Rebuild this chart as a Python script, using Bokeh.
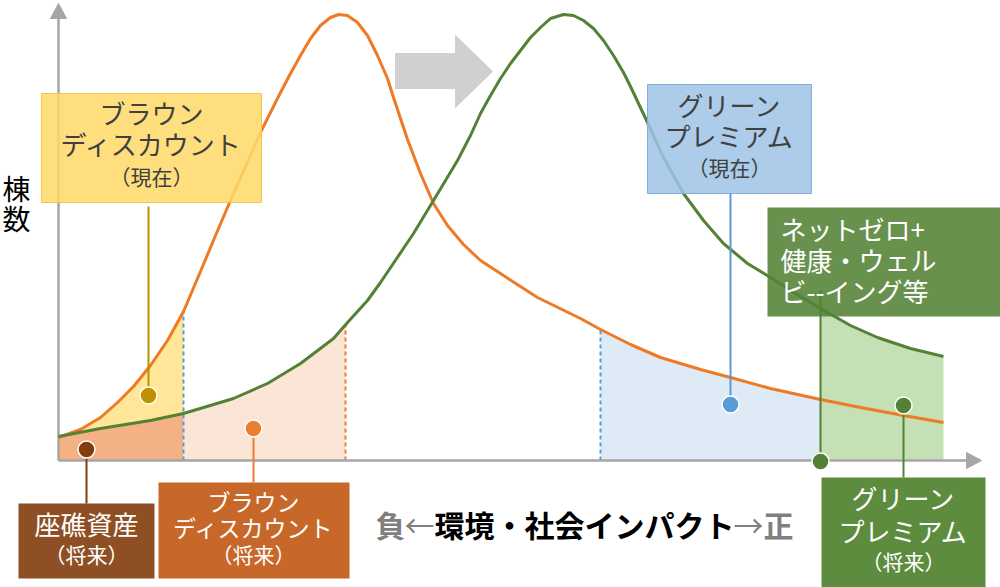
import numpy as np
from bokeh.plotting import figure
from bokeh.models import Range1d
from bokeh.core.properties import value
from bokeh.embed import file_html
from bokeh.resources import INLINE

# ---------------- data (x: environmental/social impact, y: number of buildings) ----------------
current_x = [0, 22, 42, 59, 75, 92, 109, 125, 142, 157, 172, 187, 203, 222, 232, 242, 252, 262,
             272, 280, 289, 299, 309, 319, 329, 335, 342, 349, 362, 375, 389, 405, 422, 445, 479,
             522, 542, 572, 602, 642, 672, 712, 762, 802, 845, 885]
current_y = [23, 31, 43, 58, 74, 95, 120, 149, 189, 225, 260, 294, 330, 368, 387, 405, 422, 435,
             443, 446, 445, 438, 425, 405, 382, 363, 342, 321, 287, 257, 235, 216, 200, 185, 163,
             142, 131, 116, 103, 91, 83, 72, 61, 53, 45, 38]
future_x = [0, 42, 92, 125, 175, 209, 242, 275, 289, 309, 322, 355, 375, 399, 412, 422, 432, 442,
            452, 462, 472, 482, 492, 505, 515, 525, 535, 545, 555, 565, 572, 589, 605, 625, 645,
            665, 689, 712, 737, 762, 792, 819, 852, 885]
future_y = [24, 32, 40, 47, 62, 77, 97, 122, 138, 160, 178, 227, 260, 300, 325, 347, 365, 382,
            397, 410, 423, 433, 442, 446, 445, 440, 432, 420, 405, 388, 374, 338, 303, 267, 240,
            217, 197, 183, 167, 152, 135, 123, 112, 104]

brown_now_end = 125       # brown discount (current) / stranded asset boundary
brown_future_end = 287    # brown discount (future) boundary
green_now_start = 542     # green premium (current) start
green_future_start = 762  # green premium (future) start
curve_end = 885

y_label = ["棟", "数"]
x_label = ["負", "←", "環境・社会インパクト", "→", "正"]
brown_now_label = ["ブラウン", "ディスカウント", "（現在）"]
green_now_label = ["グリーン", "プレミアム", "（現在）"]
netzero_label = ["ネットゼロ+", "健康・ウェル", "ビ--イング等"]
stranded_label = ["座礁資産", "（将来）"]
brown_future_label = ["ブラウン", "ディスカウント", "（将来）"]
green_future_label = ["グリーン", "プレミアム", "（将来）"]

# ---------------- layout helpers (reference pixel -> data) ----------------
OX, OY = 58, 460
def X(px):
    return px - OX
def Y(py):
    return OY - py

FONT = value("Noto Sans CJK JP")

p = figure(width=1000, height=587, x_range=Range1d(-58, 942), y_range=Range1d(-127, 460),
           x_axis_type=None, y_axis_type=None, toolbar_location=None, output_backend="svg",
           min_border=0, outline_line_color=None, background_fill_color="white",
           border_fill_color="white")

cx = np.array(current_x, float); cy = np.array(current_y, float)
fx = np.array(future_x, float); fy = np.array(future_y, float)

def seg(xs, ys, a, b):
    inside = (xs > a) & (xs < b)
    xx = np.concatenate([[a], xs[inside], [b]])
    return xx, np.interp(xx, xs, ys)

# fills
xx, yy = seg(fx, fy, 0, brown_now_end)
p.varea(x=xx, y1=0, y2=yy, fill_color="#f4b183")
xu = np.unique(np.concatenate([seg(fx, fy, 0, brown_now_end)[0], seg(cx, cy, 0, brown_now_end)[0]]))
p.varea(x=xu, y1=np.interp(xu, fx, fy), y2=np.interp(xu, cx, cy), fill_color="#ffe699")
xx, yy = seg(fx, fy, brown_now_end, brown_future_end)
p.varea(x=xx, y1=0, y2=yy, fill_color="#fbe5d6")
xx, yy = seg(cx, cy, green_now_start, green_future_start)
p.varea(x=xx, y1=0, y2=yy, fill_color="#deebf7")
xx, yy = seg(fx, fy, green_future_start, curve_end)
p.varea(x=xx, y1=0, y2=yy, fill_color="#c5e0b4")

# dashed boundaries
p.segment(x0=[brown_now_end], y0=[0], x1=[brown_now_end], y1=[np.interp(brown_now_end, cx, cy)],
          line_color="#5b9bd5", line_width=2, line_dash="4 3")
p.segment(x0=[brown_future_end], y0=[0], x1=[brown_future_end], y1=[np.interp(brown_future_end, fx, fy)],
          line_color="#ed7d31", line_width=2, line_dash="4 3")
p.segment(x0=[green_now_start], y0=[0], x1=[green_now_start], y1=[np.interp(green_now_start, cx, cy)],
          line_color="#5b9bd5", line_width=2, line_dash="4 3")

# axes
AX = "#a6a6a6"
p.line([0, 0], [0, Y(14)], line_color=AX, line_width=2.5)
p.line([0, X(966)], [0, 0], line_color=AX, line_width=2.5)
hl, hw = 15, 8
p.patch([-hw, 0, hw], [Y(3) - hl, Y(3), Y(3) - hl], color=AX)
p.patch([X(981) - hl, X(981), X(981) - hl], [hw, 0, -hw], color=AX)

# curves
p.line(cx, cy, line_color="#ee7a26", line_width=3, line_join="round")
p.line(fx, fy, line_color="#538135", line_width=3, line_join="round")

# shift arrow
p.patch([X(395), X(455), X(455), X(492), X(455), X(455), X(395)],
        [Y(53), Y(53), Y(35), Y(71), Y(107), Y(88), Y(88)], color="#d0d0d0")

# boxes
def box(l, r, t, b, fill, alpha=1.0, line=None):
    p.quad(left=[X(l)], right=[X(r)], top=[Y(t)], bottom=[Y(b)], fill_color=fill,
           fill_alpha=alpha, line_color=line, line_width=1)

box(41, 261, 93, 202, "#ffd966", 0.85, "#f0c850")
box(647, 811, 84, 193, "#9dc3e6", 0.85, "#86aedb")
box(767, 1000, 207, 316, "#548235", 0.88)
box(18, 154, 503, 578, "#8f4f24")
box(158, 349, 482, 578, "#c8672a")
box(821, 985, 477, 590, "#5e8c3f")

# leaders and dots
def leader(px, py0, py1, color, dot_py, outline="white"):
    p.segment(x0=[X(px)], y0=[Y(py0)], x1=[X(px)], y1=[Y(py1)], line_color=color, line_width=2)
    p.scatter([X(px)], [Y(dot_py)], size=17, fill_color=color, line_color=outline, line_width=1.5)

leader(148, 206, 395, "#bf9000", 395)
leader(730, 193, 404, "#5b9bd5", 404)
leader(820, 290, 461, "#548235", 461)
leader(86, 449, 503, "#843c0c", 449)
leader(253, 428, 482, "#ed7d31", 428)
leader(903, 405, 477, "#548235", 405)

# texts
def lines(labels, px, pys, sizes, color, align="center"):
    for t, py, s in zip(labels, pys, sizes):
        p.text(x=[X(px)], y=[Y(py)], text=[t], text_font=FONT, text_font_size=s,
               text_align=align, text_baseline="middle", text_color=color)

DARK = "#404040"
lines(brown_now_label, 151, [112, 143, 175], ["26px", "26px", "21px"], DARK)
lines(green_now_label, 729, [104, 135, 166], ["26px", "26px", "21px"], DARK)
lines(netzero_label, 780, [228, 259, 290], ["26px", "26px", "26px"], "white", "left")
lines(stranded_label, 86, [523, 553], ["26px", "21px"], "white")
lines(brown_future_label, 253, [500, 526, 553], ["23px", "23px", "21px"], "white")
lines(green_future_label, 903, [497, 530, 560], ["26px", "26px", "21px"], "white")
lines(y_label, 16, [187, 217], ["28px", "28px"], "black")

# x axis label
GRAY = "#7f7f7f"
xs_lbl = [375, 404, 434, 733, 763]
colors = [GRAY, GRAY, "black", GRAY, GRAY]
styles = ["bold", "normal", "bold", "normal", "bold"]
for t, px, c, st in zip(x_label, xs_lbl, colors, styles):
    p.text(x=[X(px)], y=[Y(523)], text=[t], text_font=FONT, text_font_size="30px",
           text_font_style=st, text_align="left", text_baseline="middle", text_color=c)

open("out.html", "w").write(file_html(p, INLINE))
